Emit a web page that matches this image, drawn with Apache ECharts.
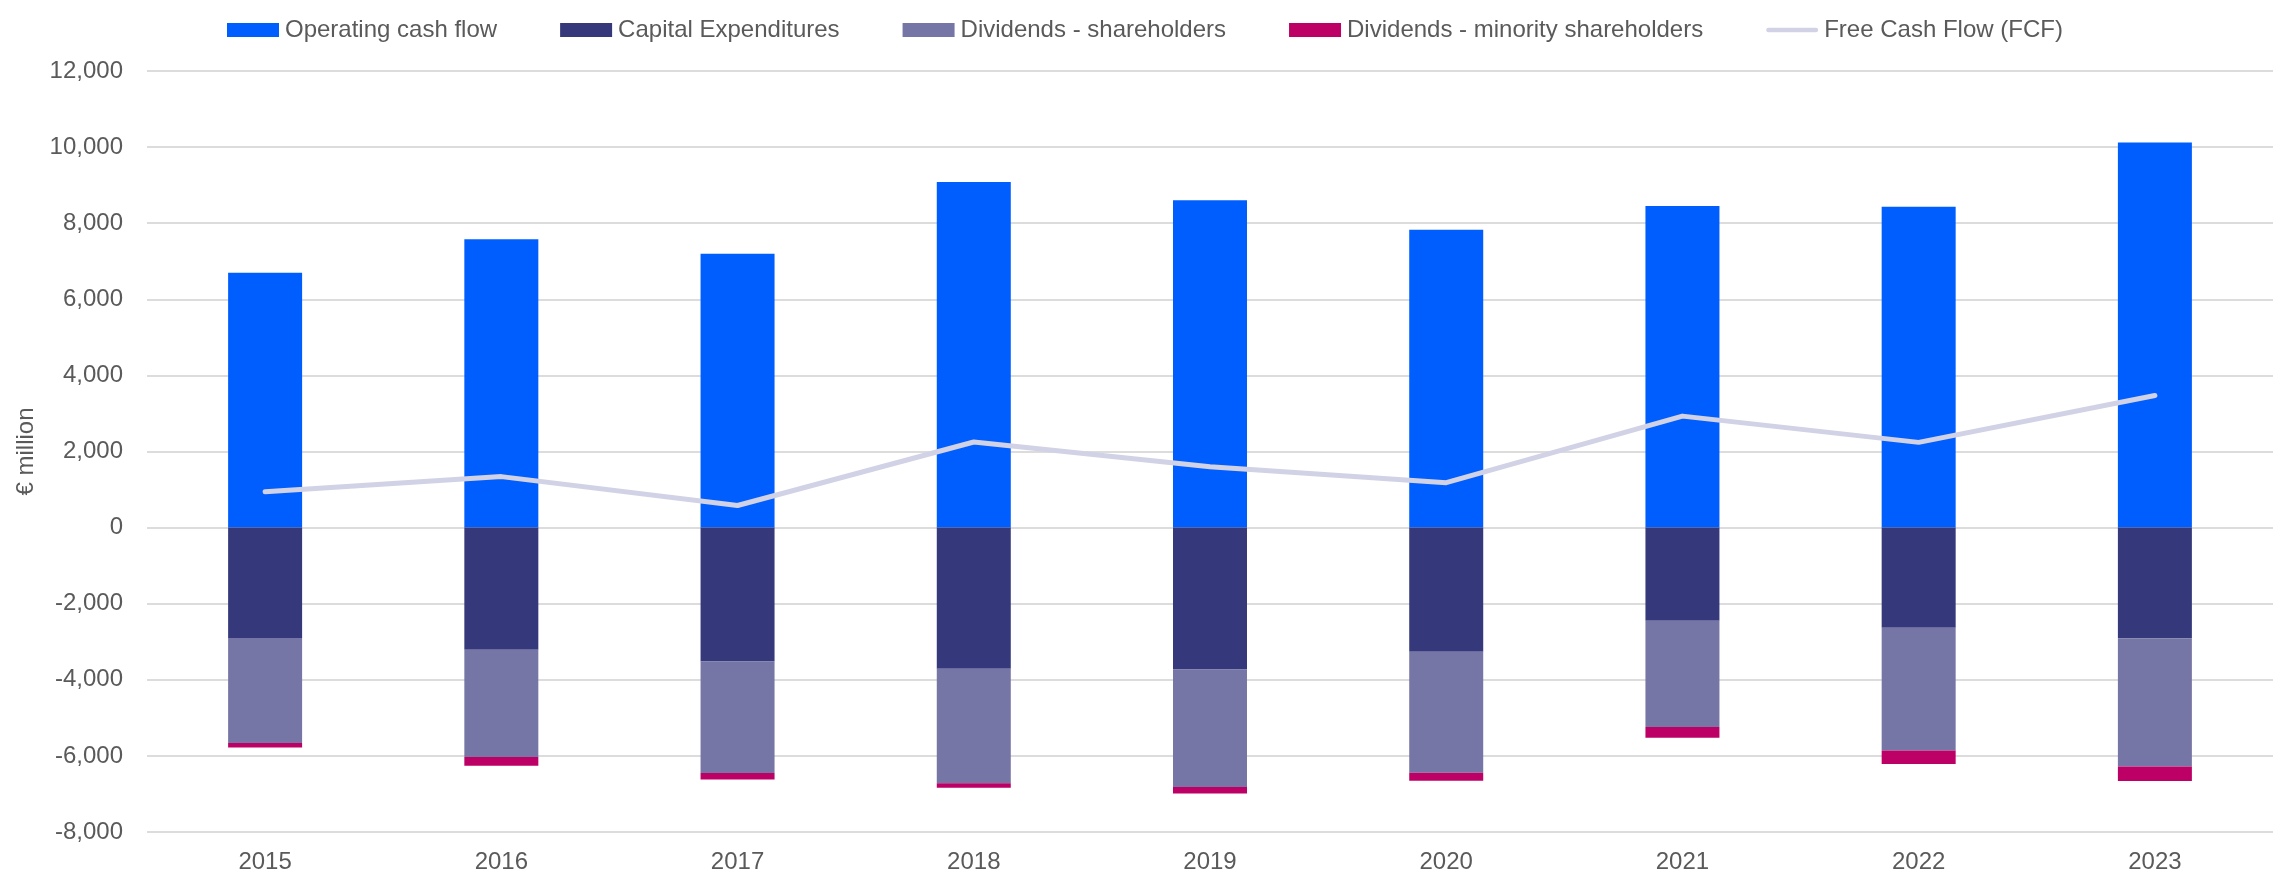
<!DOCTYPE html>
<html>
<head>
<meta charset="utf-8">
<title>Cash flow 2015–2023</title>
<script src="https://cdn.jsdelivr.net/npm/echarts@6/dist/echarts.min.js"></script>
<style>
  html, body { margin: 0; padding: 0; background: #ffffff; }
  #chart { width: 2280px; height: 876px; }
</style>
</head>
<body>
<div id="chart"></div>
<script>
// Years on the category axis
const years = ['2015', '2016', '2017', '2018', '2019', '2020', '2021', '2022', '2023'];

// Cash flow components, € million
const operatingCashFlow = [6700, 7580, 7200, 9080, 8600, 7830, 8450, 8430, 10120];
const capitalExpenditures = [-2900, -3210, -3520, -3710, -3730, -3260, -2450, -2630, -2910];
const dividendsShareholders = [-2760, -2820, -2930, -3010, -3090, -3180, -2790, -3230, -3370];
const dividendsMinority = [-120, -230, -170, -120, -170, -210, -280, -350, -380];
const freeCashFlow = [940, 1340, 580, 2250, 1600, 1180, 2930, 2240, 3470];

// Series names as shown in the legend
const seriesNames = [
  'Operating cash flow',
  'Capital Expenditures',
  'Dividends - shareholders',
  'Dividends - minority shareholders',
  'Free Cash Flow (FCF)'
];

const FONT = '"Liberation Sans", Arial, sans-serif';
const TEXT_COLOR = '#5a5a5a';
const colors = ['#005eff', '#35397b', '#7676a6', '#bd0066', '#d2d2e6'];

const chart = echarts.init(document.getElementById('chart'), null, { renderer: 'canvas' });

function barSeries(idx, data) {
  return {
    name: seriesNames[idx],
    type: 'bar',
    stack: 'cash',
    barWidth: 74,
    data: data,
    itemStyle: { color: colors[idx] },
    emphasis: { disabled: true }
  };
}

const option = {
  animation: false,
  backgroundColor: '#ffffff',
  textStyle: { fontFamily: FONT },
  legend: {
    left: 222,
    top: 13,
    itemWidth: 52,
    itemHeight: 14,
    itemGap: 63,
    textStyle: { fontFamily: FONT, fontSize: 24, color: TEXT_COLOR, padding: [0, 0, 0, 1] },
    data: [
      { name: seriesNames[0], icon: 'rect' },
      { name: seriesNames[1], icon: 'rect' },
      { name: seriesNames[2], icon: 'rect' },
      { name: seriesNames[3], icon: 'rect' },
      { name: seriesNames[4], icon: 'path://M2.5,0 H53.5 A2.5,2.5 0 0 1 53.5,5 H2.5 A2.5,2.5 0 0 1 2.5,0 Z' }
    ]
  },
  grid: {
    left: 147,
    right: 7,
    top: 71,
    bottom: 44,
    containLabel: false
  },
  xAxis: {
    type: 'category',
    data: years,
    axisLine: { show: false },
    axisTick: { show: false },
    axisLabel: { fontFamily: FONT, fontSize: 24, color: TEXT_COLOR, margin: 18 }
  },
  yAxis: {
    type: 'value',
    min: -8000,
    max: 12000,
    interval: 2000,
    name: '€ million',
    nameLocation: 'middle',
    nameGap: 108,
    nameTextStyle: { fontFamily: FONT, fontSize: 24, color: TEXT_COLOR },
    axisLine: { show: false },
    axisTick: { show: false },
    axisLabel: {
      fontFamily: FONT,
      fontSize: 24,
      color: TEXT_COLOR,
      margin: 24,
      formatter: v => v.toLocaleString('en-US')
    },
    splitLine: { lineStyle: { color: '#dcdcdc', width: 2 } }
  },
  series: [
    barSeries(0, operatingCashFlow),
    barSeries(1, capitalExpenditures),
    barSeries(2, dividendsShareholders),
    barSeries(3, dividendsMinority),
    {
      name: seriesNames[4],
      type: 'line',
      data: freeCashFlow,
      symbol: 'none',
      z: 5,
      lineStyle: { color: colors[4], width: 5, cap: 'round', join: 'round' },
      itemStyle: { color: colors[4] },
      emphasis: { disabled: true }
    }
  ]
};

chart.setOption(option);
</script>
</body>
</html>
